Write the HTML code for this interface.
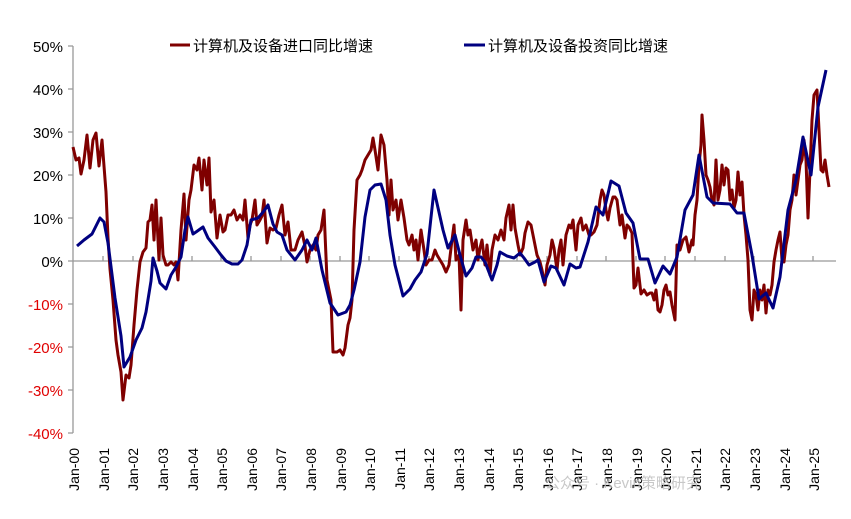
<!DOCTYPE html>
<html><head><meta charset="utf-8"><style>
body{margin:0;background:#fff;width:851px;height:514px;overflow:hidden}
svg text{font-family:"Liberation Sans","Noto Sans CJK SC",sans-serif}
</style></head><body>
<svg width="851" height="514" viewBox="0 0 851 514" xmlns="http://www.w3.org/2000/svg">
<g font-size="15" text-anchor="end">
<text x="63" y="52" fill="#000">50%</text>
<text x="63" y="95" fill="#000">40%</text>
<text x="63" y="138" fill="#000">30%</text>
<text x="63" y="181" fill="#000">20%</text>
<text x="63" y="224" fill="#000">10%</text>
<text x="63" y="267" fill="#000">0%</text>
<text x="63" y="310" fill="#e00000">-10%</text>
<text x="63" y="353" fill="#e00000">-20%</text>
<text x="63" y="396" fill="#e00000">-30%</text>
<text x="63" y="439" fill="#e00000">-40%</text>
</g>
<g stroke="#999" stroke-width="1.3" fill="none">
<line x1="73" y1="46" x2="73" y2="433"/>
<line x1="73" y1="261" x2="836" y2="261"/>
<path d="M68 46H73M68 89H73M68 132H73M68 175H73M68 218H73M68 261H73M68 304H73M68 347H73M68 390H73M68 433H73"/>
<path id="xt" d=""/>
</g>
<g stroke="#999" stroke-width="1.3">
<line x1="103" y1="256" x2="103" y2="261"/><line x1="133" y1="256" x2="133" y2="261"/><line x1="162" y1="256" x2="162" y2="261"/><line x1="192" y1="256" x2="192" y2="261"/><line x1="221" y1="256" x2="221" y2="261"/><line x1="251" y1="256" x2="251" y2="261"/><line x1="281" y1="256" x2="281" y2="261"/><line x1="310" y1="256" x2="310" y2="261"/><line x1="340" y1="256" x2="340" y2="261"/><line x1="369" y1="256" x2="369" y2="261"/><line x1="399" y1="256" x2="399" y2="261"/><line x1="429" y1="256" x2="429" y2="261"/><line x1="458" y1="256" x2="458" y2="261"/><line x1="488" y1="256" x2="488" y2="261"/><line x1="517" y1="256" x2="517" y2="261"/><line x1="547" y1="256" x2="547" y2="261"/><line x1="577" y1="256" x2="577" y2="261"/><line x1="606" y1="256" x2="606" y2="261"/><line x1="636" y1="256" x2="636" y2="261"/><line x1="665" y1="256" x2="665" y2="261"/><line x1="695" y1="256" x2="695" y2="261"/><line x1="725" y1="256" x2="725" y2="261"/><line x1="754" y1="256" x2="754" y2="261"/><line x1="784" y1="256" x2="784" y2="261"/><line x1="813" y1="256" x2="813" y2="261"/>
</g>
<g font-size="14" fill="#000" text-anchor="end">
<text transform="translate(79,448) rotate(-90)">Jan-00</text>
<text transform="translate(109,448) rotate(-90)">Jan-01</text>
<text transform="translate(138,448) rotate(-90)">Jan-02</text>
<text transform="translate(168,448) rotate(-90)">Jan-03</text>
<text transform="translate(198,448) rotate(-90)">Jan-04</text>
<text transform="translate(227,448) rotate(-90)">Jan-05</text>
<text transform="translate(257,448) rotate(-90)">Jan-06</text>
<text transform="translate(286,448) rotate(-90)">Jan-07</text>
<text transform="translate(316,448) rotate(-90)">Jan-08</text>
<text transform="translate(346,448) rotate(-90)">Jan-09</text>
<text transform="translate(375,448) rotate(-90)">Jan-10</text>
<text transform="translate(405,448) rotate(-90)">Jan-11</text>
<text transform="translate(434,448) rotate(-90)">Jan-12</text>
<text transform="translate(464,448) rotate(-90)">Jan-13</text>
<text transform="translate(494,448) rotate(-90)">Jan-14</text>
<text transform="translate(523,448) rotate(-90)">Jan-15</text>
<text transform="translate(553,448) rotate(-90)">Jan-16</text>
<text transform="translate(582,448) rotate(-90)">Jan-17</text>
<text transform="translate(612,448) rotate(-90)">Jan-18</text>
<text transform="translate(642,448) rotate(-90)">Jan-19</text>
<text transform="translate(671,448) rotate(-90)">Jan-20</text>
<text transform="translate(701,448) rotate(-90)">Jan-21</text>
<text transform="translate(730,448) rotate(-90)">Jan-22</text>
<text transform="translate(760,448) rotate(-90)">Jan-23</text>
<text transform="translate(790,448) rotate(-90)">Jan-24</text>
<text transform="translate(819,448) rotate(-90)">Jan-25</text>
</g>
<text x="545" y="488" font-size="15" fill="#bbb" opacity="0.8">公众号 · Kevin策略研究</text>
<polyline fill="none" stroke="#7f0000" stroke-width="3" stroke-linejoin="round" points="73,147 76,160 79,158 81,174 84,160 87,135 90,168 93,140 96,133 99,166 102,140 106,192 108,238 110,269 113,300 116,340 118,355 121,372 123,400 126,375 129,378 131,365 134,325 137,290 140,262 143,252 146,248 148,222 150,220 152,205 154,240 156,200 159,260 161,218 163,255 166,265 168,265 171,262 174,265 176,262 178,280 181,230 184,194 186,240 189,200 191,190 194,165 197,170 199,158 202,190 204,160 207,185 209,158 211,212 214,200 217,238 220,215 223,232 225,230 228,215 231,215 234,210 237,220 240,215 243,220 245,200 248,238 250,225 252,220 255,200 257,225 260,220 262,216 264,200 267,243 270,228 273,230 276,228 279,215 282,205 285,235 288,222 291,250 295,250 298,240 302,232 305,246 307,262 310,250 313,245 316,250 318,235 321,230 324,210 327,280 331,300 333,352 337,352 340,350 343,355 345,348 348,325 350,318 352,300 354,230 357,180 360,175 362,170 365,160 368,155 371,150 373,138 375,150 378,170 381,135 384,145 387,180 389,215 391,180 393,210 396,200 398,220 401,200 404,218 407,240 409,245 412,235 414,250 416,240 418,260 421,230 424,250 426,265 429,260 432,260 435,250 437,255 440,260 443,265 446,272 449,265 452,240 454,225 456,260 459,255 461,310 463,240 466,220 468,235 470,230 473,250 476,240 478,260 480,248 482,240 485,265 487,245 490,275 492,250 495,235 498,240 501,230 504,240 506,218 509,205 511,230 513,205 515,228 518,245 520,255 523,248 525,233 528,222 531,225 534,240 537,255 540,262 542,270 545,285 547,265 550,255 552,240 554,248 557,270 559,250 561,240 563,265 566,235 569,225 571,228 573,220 576,250 578,225 581,218 583,230 586,225 589,235 591,235 594,232 597,225 600,200 602,190 604,195 606,210 608,220 610,208 613,197 615,197 617,200 620,225 622,215 625,238 627,225 629,227 632,233 634,288 636,285 638,268 641,294 644,290 647,295 650,293 652,293 654,300 656,290 658,310 660,312 662,305 664,290 666,285 668,295 670,292 672,305 675,320 677,245 680,250 683,240 686,237 689,252 692,240 693,245 695,215 697,200 699,165 701,145 702,115 704,140 706,175 708,180 710,187 712,200 714,205 716,160 718,200 720,190 722,165 724,185 726,168 728,170 730,200 732,190 734,208 736,200 738,172 740,195 742,182 744,215 746,235 748,260 750,310 752,320 754,290 756,295 758,310 760,290 762,300 764,285 766,313 768,290 770,295 772,285 774,262 776,250 778,240 780,232 782,260 784,262 786,245 788,235 790,210 792,200 794,175 796,195 798,180 800,165 802,160 804,140 806,160 808,218 810,170 812,120 814,95 817,90 819,130 821,170 823,172 825,160 827,175 829,187"/>
<polyline fill="none" stroke="#000080" stroke-width="3" stroke-linejoin="round" points="77,246 84,240 92,234 100,218 104,222 108,243 115,298 121,336 124,367 130,357 136,340 142,328 146,312 151,281 153,258 157,271 160,283 166,289 171,275 176,267 181,257 185,230 188,217 193,234 196,232 203,227 208,238 215,247 221,255 226,261 232,264 238,264 242,260 247,245 251,220 258,218 264,211 268,205 273,224 277,232 282,235 287,250 295,260 302,250 307,240 312,250 316,238 322,270 330,303 338,315 346,312 350,305 354,290 360,262 365,217 370,190 375,185 381,184 386,200 390,235 395,265 403,296 410,289 415,280 421,272 427,254 434,190 443,230 448,248 455,235 460,255 466,276 472,268 476,257 481,257 485,262 492,280 497,265 500,252 507,256 514,258 520,253 524,258 529,265 535,262 538,260 544,282 551,266 556,268 564,285 570,264 576,268 580,267 588,242 596,207 603,215 611,181 619,186 626,213 633,223 640,259 648,259 655,283 663,266 670,274 677,257 685,210 693,195 699,155 707,197 713,203 730,204 737,213 744,213 752,255 759,299 766,293 773,308 780,277 788,210 796,180 803,137 811,175 818,107 826,70"/>
<line x1="170" y1="45" x2="190" y2="45" stroke="#7f0000" stroke-width="3"/>
<text x="193" y="51" font-size="15" fill="#000">计算机及设备进口同比增速</text>
<line x1="464" y1="45" x2="485" y2="45" stroke="#000080" stroke-width="3"/>
<text x="488" y="51" font-size="15" fill="#000">计算机及设备投资同比增速</text>
</svg>
</body></html>
